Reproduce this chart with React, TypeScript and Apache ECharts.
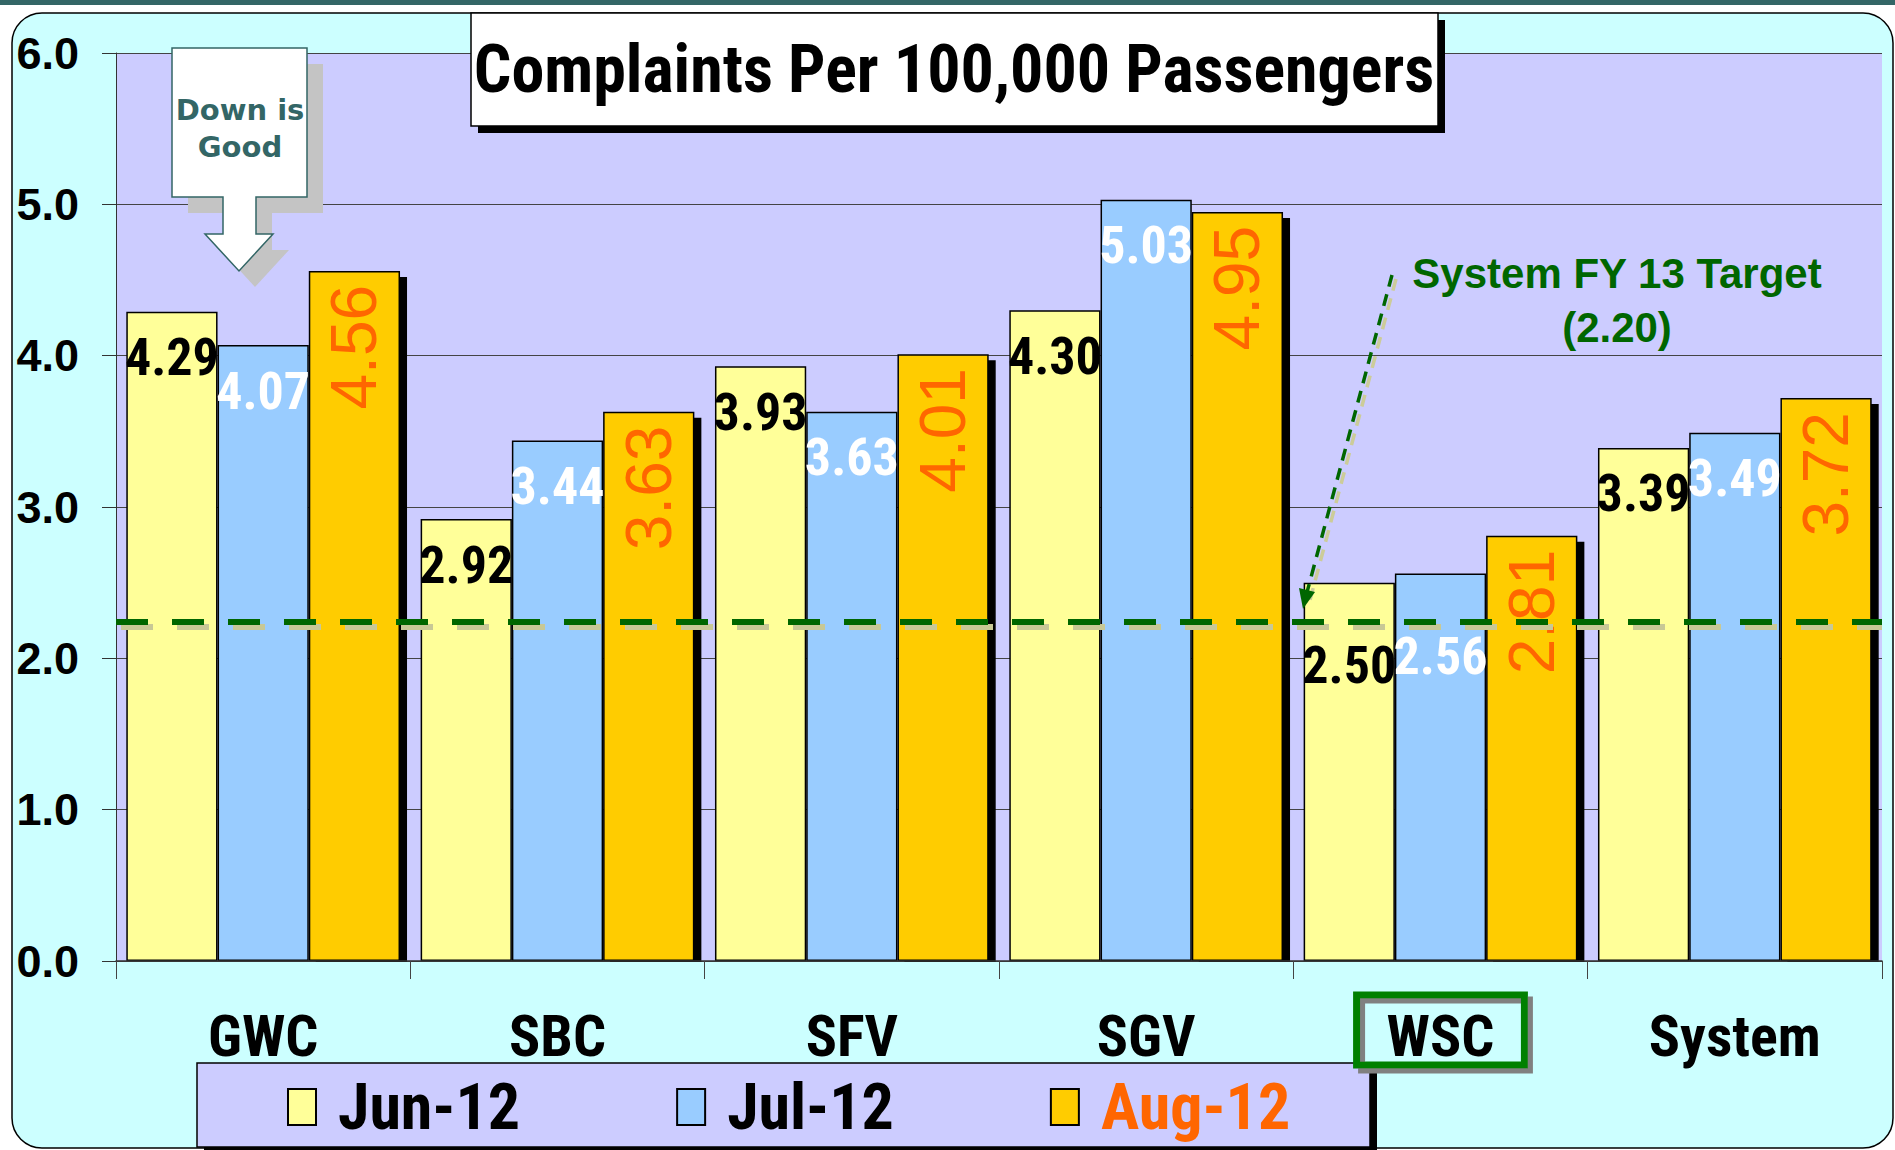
import React, { useEffect, useRef } from "react";
import * as echarts from "echarts";

const categories = ["GWC", "SBC", "SFV", "SGV", "WSC", "System"];
const seriesNames = ["Jun-12", "Jul-12", "Aug-12"];
const junValues = [4.29, 2.92, 3.93, 4.3, 2.5, 3.39];
const julValues = [4.07, 3.44, 3.63, 5.03, 2.56, 3.49];
const augValues = [4.56, 3.63, 4.01, 4.95, 2.81, 3.72];
const targetLine = 2.24;
const targetLabel = "System FY 13 Target\n(2.20)";
const titleText = "Complaints Per 100,000 Passengers";
const calloutText = "Down is\nGood";
const highlightCategory = "WSC";

const NARROW = "'Liberation Sans Narrow', 'Arial Narrow', 'Roboto Condensed', 'Liberation Sans', sans-serif";
const SANS = "'Liberation Sans', Arial, sans-serif";

// labels of bars whose top is close to the target line sit below the line
const withLabelRoom = (values: number[]) =>
  values.map((v) => (v - targetLine < 0.6 ? { value: v, label: { distance: 57 } } : { value: v }));

export default function App() {
  const ref = useRef<HTMLDivElement>(null);

  useEffect(() => {
    if (!ref.current) return;
    const chart = echarts.init(ref.current, null, { renderer: "svg" });

    const calloutPts = [
      [172, 48], [307, 48], [307, 197], [256, 197], [256, 234], [273, 234],
      [239, 271], [205, 234], [223, 234], [223, 197], [172, 197],
    ];
    const shadowPts = calloutPts.map(([x, y]) => [x + 16, y + 16]);

    const option: any = {
      animation: false,
      backgroundColor: "#ffffff",
      grid: {
        left: 116,
        right: 13,
        top: 53,
        bottom: 189,
        show: true,
        backgroundColor: "#CCCCFF",
        borderWidth: 0,
      },
      legend: {
        data: seriesNames,
        left: 287,
        top: 1075,
        padding: 0,
        itemWidth: 28,
        itemHeight: 36,
        itemGap: 156,
        icon: "rect",
        z: 11,
        formatter: (name: string) => (name === "Aug-12" ? `{o|${name}}` : `{n|${name}}`),
        textStyle: {
          rich: {
            n: {
              fontFamily: NARROW,
              fontWeight: "bold",
              fontSize: 64,
              lineHeight: 64,
              color: "#000",
              padding: [0, 0, 0, 17],
            },
            o: {
              fontFamily: NARROW,
              fontWeight: "bold",
              fontSize: 64,
              lineHeight: 64,
              color: "#FF6600",
              padding: [0, 0, 0, 17],
            },
          },
        },
      },
      xAxis: {
        type: "category",
        data: categories,
        z: 10,
        axisLine: { show: true, lineStyle: { color: "#333", width: 1.5 } },
        axisTick: { show: true, length: 18, interval: 0, lineStyle: { color: "#444", width: 1 } },
        axisLabel: {
          interval: 0,
          margin: 40,
          formatter: (v: string) => (v === highlightCategory ? `{box|${v}}` : `{n|${v}}`),
          rich: {
            n: {
              fontFamily: NARROW,
              fontWeight: "bold",
              fontSize: 58,
              lineHeight: 58,
              color: "#000",
              padding: [12, 0, 0, 0],
            },
            box: {
              fontFamily: NARROW,
              fontWeight: "bold",
              fontSize: 58,
              lineHeight: 58,
              color: "#000",
              padding: [12, 30, 0, 30],
              borderColor: "#008000",
              borderWidth: 7,
              shadowColor: "#808080",
              shadowOffsetX: 5,
              shadowOffsetY: 5,
              shadowBlur: 0,
            },
          },
        },
      },
      yAxis: {
        type: "value",
        min: 0,
        max: 6,
        interval: 1,
        axisLine: { show: true, lineStyle: { color: "#333", width: 1 } },
        axisTick: { show: true, length: 14, lineStyle: { color: "#333", width: 1 } },
        axisLabel: {
          margin: 37,
          color: "#000",
          fontFamily: SANS,
          fontWeight: "bold",
          fontSize: 45,
          formatter: (v: number) => v.toFixed(1),
        },
        splitLine: { show: true, lineStyle: { color: "#444", width: 1 } },
      },
      series: [
        {
          name: seriesNames[0],
          type: "bar",
          data: withLabelRoom(junValues),
          barGap: "0%",
          barCategoryGap: "7%",
          itemStyle: { color: "#FFFF99", borderColor: "#000", borderWidth: 1.5 },
          label: {
            show: true,
            position: "insideTop",
            distance: 20,
            color: "#000",
            fontFamily: NARROW,
            fontWeight: "bold",
            fontSize: 52,
            lineHeight: 52,
            formatter: (p: any) => Number(p.value).toFixed(2),
          },
        },
        {
          name: seriesNames[1],
          type: "bar",
          data: withLabelRoom(julValues),
          barGap: "0%",
          barCategoryGap: "7%",
          itemStyle: { color: "#99CCFF", borderColor: "#000", borderWidth: 1.5 },
          label: {
            show: true,
            position: "insideTop",
            distance: 20,
            color: "#fff",
            fontFamily: NARROW,
            fontWeight: "bold",
            fontSize: 52,
            lineHeight: 52,
            formatter: (p: any) => Number(p.value).toFixed(2),
          },
        },
        {
          name: seriesNames[2],
          type: "bar",
          data: augValues,
          barGap: "0%",
          barCategoryGap: "7%",
          itemStyle: {
            color: "#FFCC00",
            borderColor: "#000",
            borderWidth: 1.5,
            shadowColor: "#000",
            shadowOffsetX: 7,
            shadowOffsetY: 6,
            shadowBlur: 0,
          },
          label: {
            show: true,
            position: "insideTop",
            distance: 14,
            rotate: 90,
            align: "right",
            verticalAlign: "middle",
            color: "#FF6600",
            fontFamily: SANS,
            fontWeight: "normal",
            fontSize: 64,
            formatter: (p: any) => Number(p.value).toFixed(2),
          },
          markLine: {
            silent: true,
            symbol: "none",
            z: 20,
            label: { show: false },
            data: [
              {
                yAxis: targetLine - 0.033,
                lineStyle: { color: "#C8C896", width: 6, type: [32, 24], dashOffset: -5, opacity: 1 },
              },
              {
                yAxis: targetLine,
                lineStyle: { color: "#006600", width: 6, type: [32, 24], dashOffset: 0, opacity: 1 },
              },
            ],
          },
        },
      ],
      graphic: [
        { type: "rect", z: -10, shape: { x: 0, y: 0, width: 1895, height: 5 }, style: { fill: "#336666" } },
        {
          type: "rect",
          z: -9,
          shape: { x: 12, y: 13, width: 1881, height: 1135, r: 30 },
          style: { fill: "#CCFFFF", stroke: "#000", lineWidth: 1.5 },
        },
        // cover bar shadows below the axis
        {
          type: "rect",
          z: 5,
          shape: { x: 116, y: 962, width: 1766, height: 9 },
          style: { fill: "#CCFFFF" },
        },
        // title box
        { type: "rect", z: 50, shape: { x: 478, y: 20, width: 967, height: 113 }, style: { fill: "#000" } },
        {
          type: "rect",
          z: 51,
          shape: { x: 471, y: 13, width: 967, height: 113 },
          style: { fill: "#fff", stroke: "#000", lineWidth: 1.5 },
        },
        {
          type: "text",
          z: 52,
          x: 954,
          y: 69,
          style: {
            text: titleText,
            fill: "#000",
            font: `bold 66px ${NARROW}`,
            textAlign: "center",
            textVerticalAlign: "middle",
          },
        },
        // callout
        { type: "polygon", z: 40, shape: { points: shadowPts }, style: { fill: "#C4C4C4" } },
        {
          type: "polygon",
          z: 41,
          shape: { points: calloutPts },
          style: { fill: "#fff", stroke: "#336666", lineWidth: 1.5 },
        },
        {
          type: "text",
          z: 42,
          x: 240,
          y: 128,
          style: {
            text: calloutText,
            fill: "#336666",
            font: "bold 29px 'DejaVu Sans', Verdana, sans-serif",
            lineHeight: 37,
            textAlign: "center",
            textVerticalAlign: "middle",
          },
        },
        // target annotation
        {
          type: "text",
          z: 42,
          x: 1617,
          y: 300,
          style: {
            text: targetLabel,
            fill: "#006600",
            font: `bold 42px ${SANS}`,
            lineHeight: 54,
            textAlign: "center",
            textVerticalAlign: "middle",
          },
        },
        {
          type: "line",
          z: 40,
          shape: { x1: 1396, y1: 279, x2: 1310, y2: 600 },
          style: { stroke: "#CCCC99", lineWidth: 3.5, lineDash: [12, 8] },
        },
        {
          type: "line",
          z: 41,
          shape: { x1: 1392, y1: 275, x2: 1306, y2: 596 },
          style: { stroke: "#006600", lineWidth: 3.5, lineDash: [12, 8] },
        },
        {
          type: "polygon",
          z: 41,
          shape: { points: [[1303, 609], [1315, 592], [1299, 588]] },
          style: { fill: "#006600" },
        },
        // legend box
        { type: "rect", z: 4, shape: { x: 204, y: 1070, width: 1173, height: 84 }, style: { fill: "#000" } },
        {
          type: "rect",
          z: 5,
          shape: { x: 197, y: 1063, width: 1173, height: 84 },
          style: { fill: "#CCCCFF", stroke: "#000", lineWidth: 1.5 },
        },
      ],
    };

    chart.setOption(option);
    return () => chart.dispose();
  }, []);

  return (
    <div
      ref={ref}
      style={{ position: "absolute", left: 0, top: 0, width: 1895, height: 1150 }}
    />
  );
}
